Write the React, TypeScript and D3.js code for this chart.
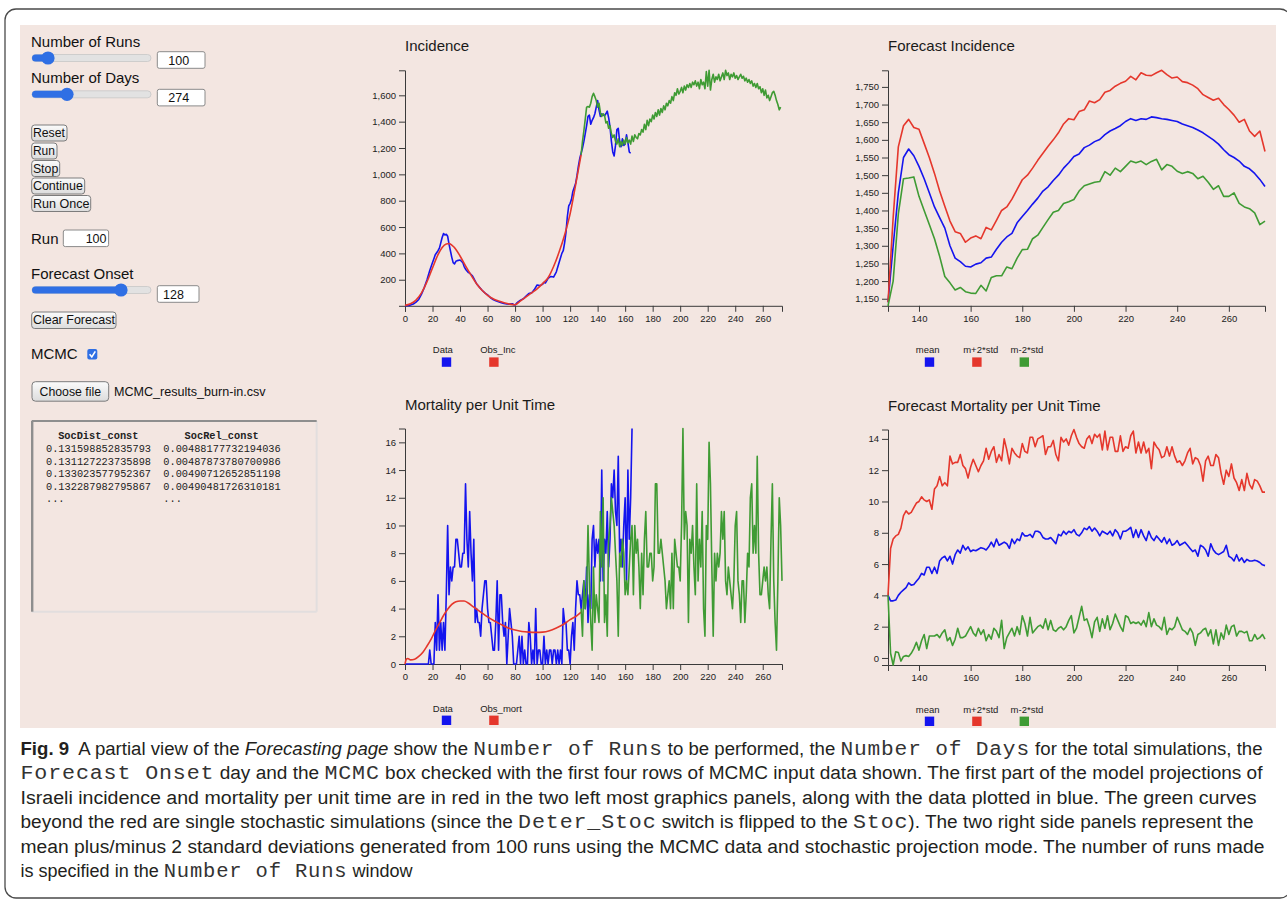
import React, { useEffect, useRef } from "react";
import * as d3 from "d3";

type Pt = [number, number];

// ---------- data ----------

// Incidence: observed data (blue), day / cases
const incData: Pt[] = [
  [0, 2], [3, 5], [6, 15], [8, 30], [10, 50], [12, 90], [14, 140], [16, 200], [18, 270], [20, 330],
  [21, 360], [22, 390], [24, 420], [25, 440], [26, 480], [27, 520], [28, 550], [29, 540], [30, 545],
  [31, 530], [32, 470], [33, 420], [34, 370], [35, 330], [36, 320], [37, 340], [38, 345], [40, 350],
  [41, 340], [42, 330], [43, 300], [44, 280], [46, 255], [47, 250], [48, 240], [49, 230], [50, 210],
  [51, 190], [52, 170], [54, 145], [56, 120], [58, 100], [60, 85], [62, 65], [64, 50], [66, 40],
  [68, 32], [70, 25], [72, 20], [74, 16], [76, 15], [78, 18], [79, 10], [80, 8], [81, 20], [82, 30],
  [84, 45], [86, 55], [88, 75], [90, 95], [92, 100], [94, 125], [96, 160], [98, 155], [100, 165],
  [101, 180], [102, 175], [104, 210], [106, 225], [108, 220], [110, 260], [112, 330], [114, 400],
  [115, 420], [116, 480], [117, 560], [118, 680], [119, 760], [120, 780], [121, 810], [122, 870],
  [123, 900], [124, 930], [125, 990], [126, 1060], [127, 1120], [128, 1160], [129, 1200], [130, 1250],
  [131, 1310], [132, 1370], [133, 1440], [134, 1450], [135, 1380], [136, 1410], [137, 1430], [138, 1460],
  [139, 1510], [140, 1560], [141, 1490], [142, 1440], [143, 1460], [144, 1450], [145, 1445], [146, 1460],
  [147, 1480], [148, 1430], [149, 1360], [150, 1250], [151, 1170], [152, 1140], [153, 1220], [154, 1340],
  [155, 1350], [156, 1250], [157, 1210], [158, 1270], [159, 1220], [160, 1230], [161, 1300], [162, 1240],
  [163, 1170], [164, 1160],
];

// Incidence: model fit (red)
const incObs: Pt[] = [
  [0, 5], [4, 18], [8, 45], [12, 100], [16, 185], [20, 290], [24, 390], [27, 445], [30, 472], [32, 475],
  [34, 462], [37, 430], [40, 380], [44, 305], [48, 235], [52, 170], [56, 120], [60, 82], [64, 55],
  [68, 38], [72, 25], [76, 15], [80, 10], [84, 40], [88, 70], [92, 100], [96, 130], [100, 170],
  [104, 215], [108, 300], [112, 410], [116, 540], [120, 700], [124, 920], [128, 1150],
];

// Incidence: single stochastic run from the onset (green), daily from day 128
const incSimStart = 128;
const incSim = [
  1150, 1250, 1330, 1420, 1510, 1515, 1510, 1540, 1590, 1615, 1590, 1560, 1510, 1540, 1470, 1440,
  1460, 1450, 1390, 1400, 1350, 1370, 1310, 1280, 1300, 1250, 1230, 1270, 1210, 1250, 1220, 1260,
  1230, 1280, 1240, 1260, 1230, 1290, 1250, 1300, 1280, 1270, 1310, 1300, 1340, 1320, 1380, 1340,
  1410, 1370, 1420, 1400, 1450, 1420, 1470, 1440, 1490, 1450, 1500, 1470, 1520, 1490, 1540, 1520,
  1560, 1540, 1590, 1560, 1620, 1600, 1650, 1610, 1630, 1660, 1620, 1670, 1640, 1680, 1660, 1690,
  1660, 1700, 1680, 1710, 1670, 1700, 1650, 1720, 1680, 1700, 1650, 1780, 1670, 1790, 1640, 1720,
  1760, 1700, 1740, 1720, 1760, 1710, 1740, 1770, 1720, 1790, 1750, 1770, 1720, 1760, 1740, 1770,
  1730, 1750, 1720, 1740, 1760, 1730, 1745, 1710, 1730, 1700, 1720, 1690, 1710, 1670, 1690, 1660,
  1690, 1650, 1665, 1620, 1650, 1600, 1640, 1580, 1600, 1560, 1590, 1620, 1630, 1600, 1560, 1530,
  1490, 1510,
];

// Mortality: observed daily deaths (blue), from day 0
const mortData = [
  0, 0, 0, 0, 0, 0, 0, 0, 0, 0, 0, 0, 0, 0, 0, 0, 0, 0, 1, 0, 0, 0, 3, 1, 5, 1, 3, 1, 3, 1,
  5, 10, 5, 7, 6, 7, 7, 9, 9, 8, 7, 7, 8, 8, 13, 9, 7, 11, 8, 6, 9, 3, 4, 3, 3, 2, 4, 5, 6, 6,
  4, 3, 3, 2, 1, 1, 3, 6, 1, 5, 5, 3, 2, 3, 0, 2, 4, 3, 2, 0, 0, 0, 1, 2, 0, 2, 0, 1, 0, 0,
  3, 2, 0, 1, 0, 4, 0, 1, 1, 0, 0, 2, 0, 1, 0, 1, 1, 0, 1, 1, 0, 1, 0, 1, 0, 4, 3, 3, 1, 1,
  0, 2, 3, 1, 4, 6, 5, 5, 4, 5, 6, 4, 7, 3, 5, 4, 9, 10, 7, 9, 8, 9, 6, 14, 6, 9, 8, 11, 7, 9,
  13, 12, 14, 11, 10, 15, 8, 9, 7, 10, 12, 6, 14, 9, 12, 17,
];

// Mortality: model fit (red)
const mortObs: Pt[] = [
  [0, 0], [1, 0.35], [2, 0.4], [4, 0.3], [7, 0.35], [10, 0.55], [13, 0.85], [16, 1.3], [19, 1.8],
  [22, 2.4], [25, 2.95], [28, 3.5], [31, 3.95], [34, 4.3], [37, 4.5], [40, 4.55], [43, 4.55], [46, 4.4],
  [50, 4.1], [55, 3.75], [60, 3.4], [65, 3.1], [70, 2.85], [75, 2.6], [80, 2.45], [85, 2.35], [90, 2.3],
  [95, 2.28], [100, 2.3], [105, 2.4], [110, 2.6], [115, 2.85], [120, 3.2], [125, 3.5], [128, 3.75],
];

// Mortality: single stochastic run (green), daily from day 128
const mortSimStart = 128;
const mortSim = [
  4, 2, 6, 4, 5, 10, 6, 3, 1, 7, 3, 5, 4, 3, 11, 7, 12, 3, 5, 2, 9, 10, 12, 11, 10, 8, 6, 2, 8, 7,
  9, 8, 5, 6, 5, 7, 9, 10, 5, 10, 8, 9, 7, 4, 8, 5, 9, 11, 7, 7, 8, 8, 6, 7, 13, 13, 8, 8, 9, 8,
  7, 6, 4, 5, 6, 4, 8, 4, 9, 8, 7, 7, 6, 10, 17, 9, 11, 10, 3, 9, 8, 10, 7, 5, 13, 6, 9, 7, 11, 4,
  2, 10, 9, 16, 13, 7, 2, 8, 6, 8, 7, 8, 11, 9, 11, 6, 5, 7, 6, 5, 4, 6, 10, 11, 6, 5, 3, 6, 6, 3,
  5, 8, 7, 12, 13, 8, 10, 8, 15, 8, 5, 5, 6, 7, 6, 7, 5, 4, 9, 13, 6, 3, 1, 6, 12, 10, 6,
];

// Forecast incidence, every second day from day 128
const fcIncDays = d3.range(128, 275, 2);
const fcIncMean = [
  1140, 1300, 1450, 1550, 1574, 1555, 1525, 1490, 1450, 1410, 1380, 1350, 1300, 1265, 1255, 1242,
  1240, 1248, 1252, 1265, 1268, 1290, 1310, 1325, 1335, 1365, 1383, 1400, 1418, 1435, 1455, 1467,
  1485, 1500, 1520, 1535, 1553, 1560, 1578, 1585, 1595, 1601, 1615, 1625, 1632, 1640, 1652, 1660,
  1655, 1660, 1658, 1665, 1663, 1660, 1658, 1655, 1652, 1645, 1640, 1635, 1628, 1620, 1610, 1600,
  1588, 1572, 1558, 1550, 1540, 1525, 1518, 1505, 1488, 1468,
];
const fcIncUpper = [
  1140, 1380, 1580, 1640, 1658, 1635, 1630, 1590, 1550, 1505, 1455, 1412, 1370, 1340, 1335, 1310,
  1322, 1328, 1320, 1352, 1345, 1372, 1400, 1410, 1432, 1460, 1487, 1500, 1520, 1542, 1562, 1582,
  1600, 1620, 1645, 1660, 1657, 1680, 1685, 1710, 1705, 1714, 1735, 1740, 1752, 1760, 1766, 1780,
  1770, 1790, 1783, 1782, 1790, 1797, 1785, 1775, 1778, 1765, 1762, 1755, 1745, 1728, 1720, 1712,
  1718, 1700, 1686, 1670, 1650, 1658, 1625, 1610, 1625, 1567,
];
const fcIncLower = [
  1130, 1200, 1390, 1490, 1492, 1495, 1440, 1400, 1360, 1320, 1270, 1213, 1195, 1175, 1182, 1170,
  1166, 1165, 1188, 1172, 1210, 1215, 1215, 1240, 1235, 1265, 1289, 1290, 1320, 1330, 1352, 1374,
  1395, 1400, 1420, 1425, 1431, 1455, 1470, 1475, 1480, 1482, 1510, 1500, 1520, 1510, 1525, 1540,
  1535, 1540, 1530, 1539, 1545, 1515, 1530, 1525, 1511, 1505, 1510, 1505, 1490, 1497, 1480, 1460,
  1470, 1440, 1440, 1450, 1420, 1410, 1405, 1393, 1360, 1370,
];

// Forecast mortality, daily from day 128
const fcMortStart = 128;
const fcMortMean = [
  4.0, 3.65, 3.65, 3.7, 4.0, 4.2, 4.35, 4.5, 4.8, 4.65, 4.7, 4.9, 5.1, 5.4, 5.3, 5.8, 5.8, 5.4, 5.8, 5.4,
  6.2, 6.4, 6.5, 6.2, 6.5, 6.0, 6.6, 6.9, 6.7, 7.2, 6.9, 7.1, 6.8, 6.9, 6.85, 6.95, 7.05, 7.0, 6.9, 7.1,
  7.4, 7.1, 7.6, 7.2, 7.3, 7.4, 7.3, 7.0, 7.6, 7.3, 7.6, 7.5, 8.0, 7.8, 7.8, 7.9, 7.7, 8.1, 8.1, 8.0,
  7.7, 7.6, 7.6, 7.7, 7.5, 7.3, 7.9, 7.8, 8.1, 7.9, 8.1, 8.0, 8.2, 7.9, 7.8, 8.0, 8.3, 8.2, 8.4, 8.1,
  8.3, 8.1, 7.8, 8.1, 8.0, 7.9, 8.1, 7.8, 8.2, 8.0, 7.6, 8.1, 8.1, 8.2, 8.35, 7.7, 8.2, 7.7, 8.2, 7.8,
  7.5, 8.1, 7.7, 7.5, 7.8, 7.6, 7.4, 7.7, 7.3, 7.6, 7.2, 7.3, 7.5, 7.2, 7.3, 7.4, 7.2, 7.0, 6.8, 6.9,
  6.5, 7.2, 7.1, 6.9, 6.5, 7.3, 6.9, 6.7, 6.6, 6.7, 6.8, 7.2, 6.5, 6.4, 6.2, 6.6, 6.2, 6.4, 6.1, 6.3,
  6.2, 6.2, 6.25, 6.2, 6.1, 5.95, 5.9,
];
const fcMortUpper = [
  4.0, 7.0, 7.6, 7.8, 7.9, 8.3, 9.1, 9.4, 9.2, 9.3, 9.6, 9.9, 10.0, 10.3, 10.1, 10.0, 10.1, 9.5, 10.8, 11.0,
  11.6, 11.0, 11.2, 11.0, 12.9, 12.4, 12.5, 12.5, 13.0, 12.3, 12.1, 11.5, 12.2, 12.7, 12.3, 11.9, 12.3, 12.6, 13.4, 12.7,
  13.2, 13.5, 12.5, 13.0, 12.6, 14.0, 13.3, 12.4, 13.4, 13.1, 12.9, 12.8, 13.7, 13.2, 13.1, 14.1, 14.1, 13.5, 14.0, 14.1,
  14.2, 13.0, 13.5, 13.5, 13.9, 13.0, 12.6, 14.1, 13.8, 14.0, 13.6, 14.2, 14.6, 14.1, 13.7, 13.5, 13.4, 14.0, 14.2, 13.7,
  14.3, 14.1, 14.3, 13.3, 14.5, 13.3, 14.1, 14.1, 13.2, 13.2, 14.2, 13.2, 13.5, 13.4, 14.2, 14.5, 13.1, 13.8, 13.1, 13.8,
  13.1, 13.4, 12.1, 13.8, 13.5, 13.3, 12.8, 12.9, 13.5, 12.9, 13.5, 12.9, 12.5, 12.6, 12.3, 12.6, 13.1, 13.4, 12.4, 12.8,
  12.7, 12.3, 11.3, 12.6, 12.9, 12.3, 12.3, 13.0, 12.8, 11.8, 11.1, 12.0, 11.6, 12.4, 11.5, 11.2, 10.7, 11.4, 10.7, 11.8,
  11.1, 10.8, 11.4, 11.3, 11.0, 10.6, 10.6,
];
const fcMortLower = [
  4.0, 0.3, -0.45, 0.4, 0.35, -0.2, 0.1, 0.15, 0.1, 0.3, 0.6, 1.0, 0.5, 1.1, 1.5, 0.6, 1.4, 1.4, 1.4, 1.5,
  1.3, 1.6, 1.8, 1.1, 1.3, 0.8, 1.2, 1.9, 1.3, 1.3, 1.4, 1.7, 2.0, 1.6, 1.4, 1.9, 1.5, 1.8, 1.1, 1.5,
  1.2, 1.9, 1.7, 1.3, 2.4, 0.6, 1.3, 1.6, 1.9, 1.4, 2.0, 1.5, 2.7, 2.2, 1.4, 2.6, 1.6, 1.8, 2.0, 2.1,
  1.9, 2.5, 1.8, 2.4, 1.8, 1.7, 1.9, 2.0, 1.8, 2.0, 2.4, 2.7, 1.6, 1.9, 2.6, 3.3, 2.4, 2.5, 2.0, 1.3,
  2.3, 2.6, 1.7, 2.5, 1.9, 2.7, 1.8, 2.2, 2.8, 2.4, 2.0, 1.7, 2.7, 2.6, 2.2, 2.3, 2.2, 2.3, 2.1, 2.4,
  2.0, 2.9, 2.0, 2.5, 2.1, 2.0, 1.8, 2.6, 1.5, 1.9, 1.8, 2.0, 2.6, 2.2, 1.8, 1.7, 1.5, 1.9, 1.6, 0.8,
  1.5, 1.6, 1.8, 1.9, 1.4, 1.8, 0.9, 1.8, 0.8, 1.6, 1.2, 2.1, 1.5, 2.0, 2.1, 1.4, 1.7, 1.7, 1.6, 1.7,
  1.1, 1.1, 1.5, 1.2, 1.3, 1.5, 1.2,
];

const incLegend = ["Data", "Obs_Inc"];
const mortLegend = ["Data", "Obs_mort"];
const fcLegend = ["mean", "m+2*std", "m-2*std"];

const mcmcHeader = ["SocDist_const", "SocRel_const"];
const mcmcRows = [
  ["0.131598852835793", "0.00488177732194036"],
  ["0.131127223735898", "0.00487873780700986"],
  ["0.133023577952367", "0.00490712652851198"],
  ["0.132287982795867", "0.00490481726310181"],
  ["...", "..."],
];

// caption: [text, style] with b = bold, i = italic, m = monospace
const captionLines: [string, string][][] = [
  [["Fig. 9", "b"], ["  A partial view of the ", ""], ["Forecasting page", "i"], [" show the ", ""], ["Number of Runs", "m"],
    [" to be performed, the ", ""], ["Number of Days", "m"], [" for the total simulations, the", ""]],
  [["Forecast Onset", "m"], [" day and the ", ""], ["MCMC", "m"], [" box checked with the first four rows of MCMC input data shown. The first part of the model projections of", ""]],
  [["Israeli incidence and mortality per unit time are in red in the two left most graphics panels, along with the data plotted in blue. The green curves", ""]],
  [["beyond the red are single stochastic simulations (since the ", ""], ["Deter_Stoc", "m"], [" switch is flipped to the ", ""], ["Stoc", "m"], ["). The two right side panels represent the", ""]],
  [["mean plus/minus 2 standard deviations generated from 100 runs using the MCMC data and stochastic projection mode. The number of runs made", ""]],
  [["is specified in the ", ""], ["Number of Runs", "m"], [" window", ""]],
];
const captionWidths = [1242, 1242, 1236, 1233, 1244, 392];

// ---------- styling ----------
const FONT = "'Liberation Sans', Arial, Helvetica, sans-serif";
const MONO = "'Liberation Mono', 'Courier New', monospace";
const BG = "#f3e6e1";
const BLUE = "#1414ee";
const RED = "#e5372c";
const GREEN = "#3f9b34";
const UI_BLUE = "#2f6fe4";
const IW = 377;
const IH = 235.5;

const daily = (start: number, vals: number[]): Pt[] => vals.map((v, i) => [start + i, v]);

type Series = { pts: Pt[]; color: string; smooth?: boolean };
type Panel = { title: string; left: number; top: number; xDomain: [number, number]; series: Series[]; legend: string[]; colors: string[] };

const panels: Panel[] = [
  {
    title: "Incidence", left: 405, top: 70.3, xDomain: [0, 274],
    series: [
      { pts: incData, color: BLUE },
      { pts: incObs, color: RED, smooth: true },
      { pts: daily(incSimStart, incSim), color: GREEN },
    ],
    legend: incLegend, colors: [BLUE, RED],
  },
  {
    title: "Forecast Incidence", left: 888, top: 70.3, xDomain: [128, 274],
    series: [
      { pts: fcIncDays.map((d, i) => [d, fcIncMean[i]] as Pt), color: BLUE },
      { pts: fcIncDays.map((d, i) => [d, fcIncUpper[i]] as Pt), color: RED },
      { pts: fcIncDays.map((d, i) => [d, fcIncLower[i]] as Pt), color: GREEN },
    ],
    legend: fcLegend, colors: [BLUE, RED, GREEN],
  },
  {
    title: "Mortality per Unit Time", left: 405, top: 428.5, xDomain: [0, 274],
    series: [
      { pts: daily(0, mortData), color: BLUE },
      { pts: mortObs, color: RED, smooth: true },
      { pts: daily(mortSimStart, mortSim), color: GREEN },
    ],
    legend: mortLegend, colors: [BLUE, RED],
  },
  {
    title: "Forecast Mortality per Unit Time", left: 888, top: 429.5, xDomain: [128, 274],
    series: [
      { pts: daily(fcMortStart, fcMortMean), color: BLUE },
      { pts: daily(fcMortStart, fcMortUpper), color: RED },
      { pts: daily(fcMortStart, fcMortLower), color: GREEN },
    ],
    legend: fcLegend, colors: [BLUE, RED, GREEN],
  },
];

const Slider = ({ y, thumb }: { y: number; thumb: number }) => (
  <g>
    <rect x={32} y={y - 3.5} width={119} height={7} rx={3.5} fill="#e2e2e2" stroke="#c6c6c6" strokeWidth={0.8} />
    <rect x={32} y={y - 3.5} width={thumb - 32} height={7} rx={3.5} fill={UI_BLUE} />
    <circle cx={thumb} cy={y} r={6.6} fill={UI_BLUE} />
  </g>
);

const NumBox = ({ x, y, w, text, tx, anchor = "start" }: { x: number; y: number; w: number; text: string; tx: number; anchor?: string }) => (
  <g>
    <rect x={x} y={y} width={w} height={16.6} rx={2} fill="#fff" stroke="#8a8a8a" strokeWidth={1} />
    <text x={tx} y={y + 13} fontSize={12.5} fontFamily={FONT} fill="#111" textAnchor={anchor}>{text}</text>
  </g>
);

const Button = ({ y, w, label, lw, x = 31.7, h = 16 }: { y: number; w: number; label: string; lw: number; x?: number; h?: number }) => (
  <g>
    <rect x={x} y={y} width={w} height={h} rx={3} fill="url(#btn)" stroke="#7c7c7c" strokeWidth={1} />
    <text x={x + 1.2} y={y + 12.3} fontSize={13} fontFamily={FONT} fill="#111" textLength={lw} lengthAdjust="spacingAndGlyphs">{label}</text>
  </g>
);

const captionFont = (s: string) => {
  if (s === "m") return { fontFamily: MONO, fontSize: 20.5, letterSpacing: 0.8, fill: "#333" };
  if (s === "b") return { fontFamily: FONT, fontSize: 18, fontWeight: 700 };
  if (s === "i") return { fontFamily: FONT, fontSize: 18, fontStyle: "italic" };
  return { fontFamily: FONT, fontSize: 18 };
};

export default function App() {
  const ref = useRef<SVGGElement>(null);

  useEffect(() => {
    const root = d3.select(ref.current);
    root.selectAll("*").remove();

    panels.forEach((p) => {
      const g = root.append("g").attr("transform", `translate(${p.left},${p.top})`);
      const vals = p.series.flatMap((s) => s.pts.map((d) => d[1]));
      const x = d3.scaleLinear().domain(p.xDomain).range([0, IW]);
      const y = d3.scaleLinear().domain(d3.extent(vals) as [number, number]).range([IH, 0]);

      const xa = g.append("g").attr("transform", `translate(0,${IH})`).call(d3.axisBottom(x));
      const ya = g.append("g").call(d3.axisLeft(y));
      [xa, ya].forEach((a) => {
        a.attr("font-family", FONT).attr("font-size", 9.5);
        a.selectAll("path, line").attr("stroke", "#3a3a3a");
        a.selectAll("text").attr("fill", "#222");
      });

      p.series.forEach((s) => {
        const line = d3
          .line<Pt>()
          .x((d) => x(d[0]))
          .y((d) => y(d[1]))
          .curve(s.smooth ? d3.curveMonotoneX : d3.curveLinear);
        g.append("path")
          .datum(s.pts)
          .attr("fill", "none")
          .attr("stroke", s.color)
          .attr("stroke-width", 1.6)
          .attr("stroke-linejoin", "round")
          .attr("d", line);
      });

      // title
      g.append("text")
        .attr("x", 0)
        .attr("y", -19)
        .attr("font-family", FONT)
        .attr("font-size", 15)
        .attr("fill", "#1a1a1a")
        .text(p.title);

      // legend
      p.legend.forEach((lab, i) => {
        const sx = 36.8 + i * 47.4;
        g.append("rect")
          .attr("x", sx)
          .attr("y", IH + 51.6)
          .attr("width", 9.4)
          .attr("height", 9.4)
          .attr("fill", p.colors[i]);
        g.append("text")
          .attr("x", sx - 9)
          .attr("y", IH + 47.6)
          .attr("font-family", FONT)
          .attr("font-size", 9.5)
          .attr("fill", "#222")
          .text(lab);
      });
    });
  }, []);

  return (
    <svg width={1287} height={902} style={{ position: "absolute", left: 0, top: 0, background: "#fff" }}>
      <defs>
        <linearGradient id="btn" x1="0" y1="0" x2="0" y2="1">
          <stop offset="0" stopColor="#fbfbfb" />
          <stop offset="1" stopColor="#dcdcdc" />
        </linearGradient>
      </defs>

      {/* frame and page background */}
      <rect x={5} y={9} width={1286} height={889} rx={11} fill="#fff" stroke="#4a4a4a" strokeWidth={1.3} />
      <rect x={20} y={25} width={1256} height={703} fill={BG} />

      {/* controls */}
      <g fontFamily={FONT} fill="#111">
        <text x={31} y={46.7} fontSize={15}>Number of Runs</text>
        <Slider y={58} thumb={48} />
        <NumBox x={157.3} y={51.7} w={47.7} text="100" tx={168.3} />

        <text x={31} y={83} fontSize={15}>Number of Days</text>
        <Slider y={94.3} thumb={67} />
        <NumBox x={157.3} y={89.3} w={47.7} text="274" tx={168.3} />

        <Button y={125} w={35.3} label="Reset" lw={32} />
        <Button y={143} w={25.3} label="Run" lw={22} />
        <Button y={160.5} w={28} label="Stop" lw={25.4} />
        <Button y={178} w={53} label="Continue" lw={50} />
        <Button y={195.5} w={59} label="Run Once" lw={56.5} />

        <text x={31} y={244} fontSize={15}>Run</text>
        <NumBox x={63.3} y={230} w={45.3} text="100" tx={106.5} anchor="end" />

        <text x={31} y={279} fontSize={15}>Forecast Onset</text>
        <Slider y={290} thumb={121} />
        <NumBox x={157.3} y={285.7} w={41.7} text="128" tx={163} />

        <Button y={312} w={84.3} h={16.5} label="Clear Forecast" lw={82} />

        <text x={31} y={359} fontSize={15}>MCMC</text>
        <rect x={87.3} y={349} width={10} height={10.4} rx={2} fill={UI_BLUE} />
        <path d="M89.6 354.3 L91.8 356.9 L95.3 351.4" fill="none" stroke="#fff" strokeWidth={1.6} />

        <rect x={32} y={381.7} width={76.7} height={19.5} rx={3.5} fill="url(#btn)" stroke="#7c7c7c" strokeWidth={1} />
        <text x={70.3} y={396} fontSize={12.8} textAnchor="middle" textLength={61.5} lengthAdjust="spacingAndGlyphs">Choose file</text>
        <text x={114} y={396} fontSize={13} textLength={151.5} lengthAdjust="spacingAndGlyphs">MCMC_results_burn-in.csv</text>
      </g>

      {/* MCMC input preview box */}
      <g>
        <rect x={31.7} y={421} width={285} height={190.7} fill={BG} />
        <line x1={316.7} y1={421} x2={316.7} y2={611.7} stroke="#e2dede" strokeWidth={2} />
        <line x1={31.7} y1={611.7} x2={316.7} y2={611.7} stroke="#e2dede" strokeWidth={2} />
        <line x1={31.7} y1={421} x2={316.7} y2={421} stroke="#8e8e8e" strokeWidth={2} />
        <line x1={32.2} y1={421} x2={32.2} y2={611.7} stroke="#8e8e8e" strokeWidth={2.4} />
        <g fontFamily={MONO} fontSize={10.3} fill="#222">
          <text x={98.3} y={439.3} textAnchor="middle" fontWeight={700}>{mcmcHeader[0]}</text>
          <text x={221.7} y={439.3} textAnchor="middle" fontWeight={700}>{mcmcHeader[1]}</text>
          {mcmcRows.map((r, i) => (
            <g key={i}>
              <text x={46} y={452.3 + i * 12.4}>{r[0]}</text>
              <text x={163.3} y={452.3 + i * 12.4}>{r[1]}</text>
            </g>
          ))}
        </g>
      </g>

      {/* charts */}
      <g ref={ref} />

      {/* caption */}
      <g fill="#231f20">
        {captionLines.map((segs, i) => (
          <text
            key={i}
            x={20.5}
            y={755 + i * 24.4}
            textLength={captionWidths[i]}
            lengthAdjust="spacingAndGlyphs"
            style={{ whiteSpace: "pre" }}
          >
            {segs.map(([t, s], j) => (
              <tspan key={j} {...(captionFont(s) as any)}>{t}</tspan>
            ))}
          </text>
        ))}
      </g>
    </svg>
  );
}
